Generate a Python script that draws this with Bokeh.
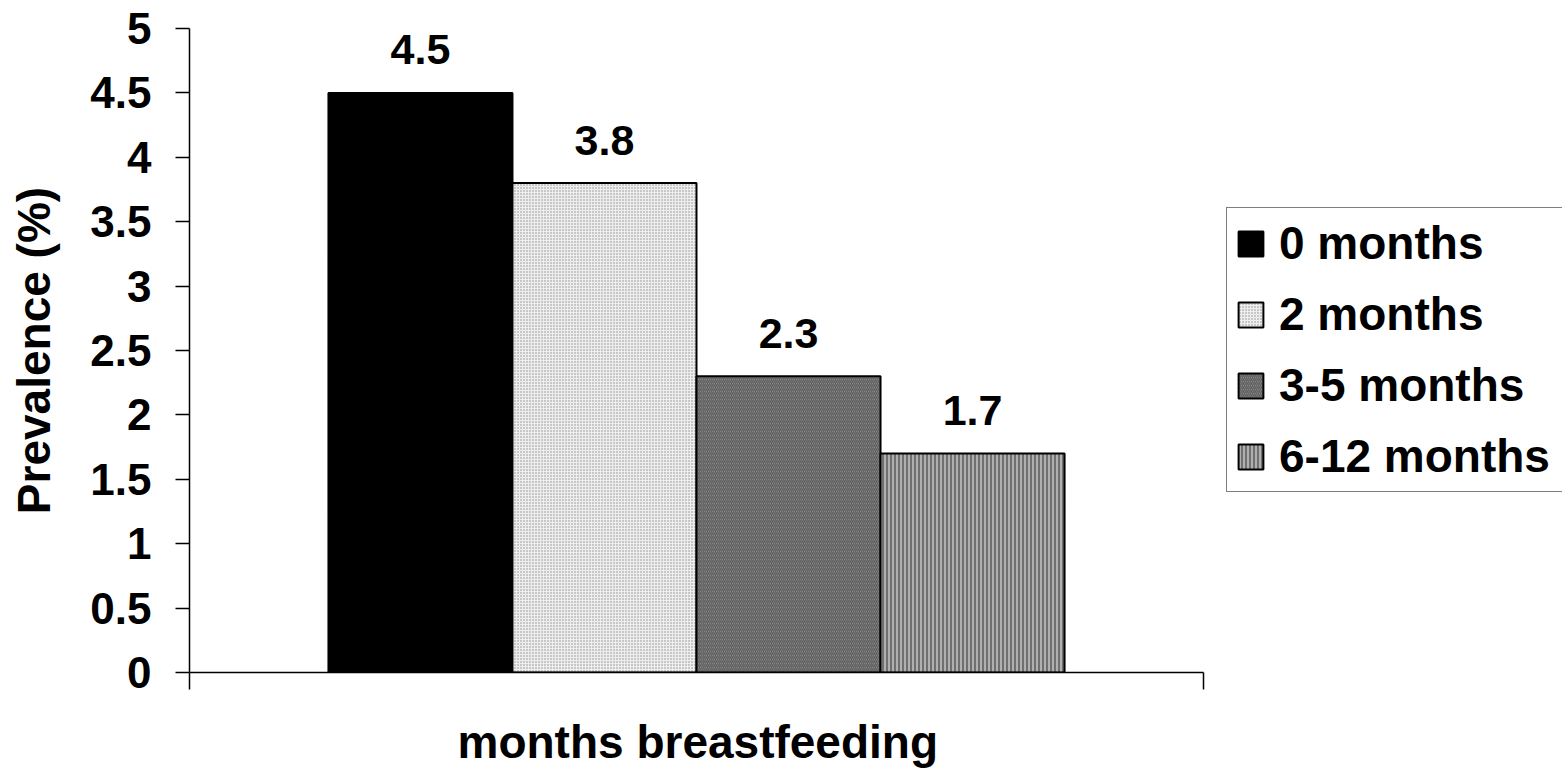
from bokeh.plotting import figure
from bokeh.models import Range1d, FixedTicker, Legend, LegendItem, ColumnDataSource, Title
from bokeh.core.properties import value
from bokeh.embed import file_html
from bokeh.resources import INLINE

categories = ["0 months", "2 months", "3-5 months", "6-12 months"]
prevalence = [4.5, 3.8, 2.3, 1.7]
value_labels = ["4.5", "3.8", "2.3", "1.7"]
y_ticks = [0, 0.5, 1, 1.5, 2, 2.5, 3, 3.5, 4, 4.5, 5]
x_title = "months breastfeeding"
y_title = "Prevalence (%)"

FONT = "Liberation Sans"

styles = [
    dict(fill_color="black"),
    dict(fill_color="#eeeeee", hatch_pattern="dot", hatch_color="#8c8c8c", hatch_scale=3, hatch_weight=1),
    dict(fill_color="#9a9a9a", hatch_pattern="left_diagonal_line", hatch_color="#606060", hatch_scale=4, hatch_weight=1.5),
    dict(fill_color="#b0b0b0", hatch_pattern="vertical_line", hatch_color="#5a5a5a", hatch_scale=4, hatch_weight=1.5),
]

LEFT, TOP, FW, FH, W, H = 189, 28, 1014, 644, 1562, 769
half = 2.755                      # axis spans bar group plus margins
upp = 2 * half / FW               # data units per pixel
x_end = half + (W - LEFT - FW) * upp   # extra room at right for the legend

p = figure(width=W, height=H, output_backend="svg", toolbar_location=None,
           x_range=Range1d(-half, x_end), y_range=Range1d(0, 5),
           min_border_left=LEFT, min_border_right=0, min_border_top=TOP,
           min_border_bottom=H - TOP - FH)
p.outline_line_color = None
p.xgrid.visible = False
p.ygrid.visible = False
p.background_fill_color = "white"
p.border_fill_color = "white"

items = []
for i, (cat, val) in enumerate(zip(categories, prevalence)):
    r = p.vbar(x=[i - 1.5], top=[val], bottom=0, width=1.0, line_color="black", line_width=2, **styles[i])
    items.append(LegendItem(label=cat, renderers=[r]))

src = ColumnDataSource(dict(x=[i - 1.5 for i in range(len(categories))], y=prevalence, t=value_labels))
p.text(x="x", y="y", text="t", source=src, y_offset=-43, text_align="center", text_baseline="alphabetic",
       text_font=value(FONT), text_font_style="bold", text_font_size="43px", text_color="black")

# y axis
p.yaxis.ticker = FixedTicker(ticks=y_ticks)
p.yaxis.major_label_overrides = {0: "0", 1: "1", 2: "2", 3: "3", 4: "4", 5: "5"}
p.yaxis.major_label_text_font = FONT
p.yaxis.major_label_text_font_style = "bold"
p.yaxis.major_label_text_font_size = "44px"
p.yaxis.major_label_text_color = "black"
p.yaxis.major_label_standoff = 24
p.yaxis.major_tick_out = 14
p.yaxis.major_tick_in = 0
p.yaxis.minor_tick_line_color = None
p.yaxis.axis_line_width = 1.5
p.yaxis.major_tick_line_width = 1.5
p.yaxis.axis_label = y_title
p.yaxis.axis_label_text_font = FONT
p.yaxis.axis_label_text_font_style = "bold"
p.yaxis.axis_label_text_font_size = "46px"
p.yaxis.axis_label_text_color = "black"
p.yaxis.axis_label_standoff = 27

# x axis
p.xaxis.ticker = FixedTicker(ticks=[-half, half])
p.xaxis.bounds = (-half, half)
p.xaxis.major_label_text_font_size = "0px"
p.xaxis.major_tick_out = 17
p.xaxis.major_tick_in = 0
p.xaxis.minor_tick_line_color = None
p.xaxis.axis_line_width = 1.5
p.xaxis.major_tick_line_width = 1.5

spacer = Title(text=" ", text_font_size="20px", standoff=0, text_line_height=1.0)
p.add_layout(spacer, "below")
xt = Title(text=x_title, align="left", offset=268, text_font=FONT, text_font_style="bold",
           text_font_size="46px", text_color="black", standoff=0, text_line_height=0.9)
p.add_layout(xt, "below")

legend = Legend(items=items, location=(1226 - LEFT, TOP + FH - 492),
                padding=8, spacing=17, glyph_width=31, glyph_height=31, label_height=46,
                label_width=290,
                label_standoff=13, label_text_font=FONT, label_text_font_style="bold",
                label_text_font_size="46px", label_text_baseline="middle", label_text_color="black",
                border_line_color="black", border_line_width=1.5, background_fill_color="white",
                margin=0)
p.add_layout(legend, "center")

open("out.html", "w").write(file_html(p, INLINE))
